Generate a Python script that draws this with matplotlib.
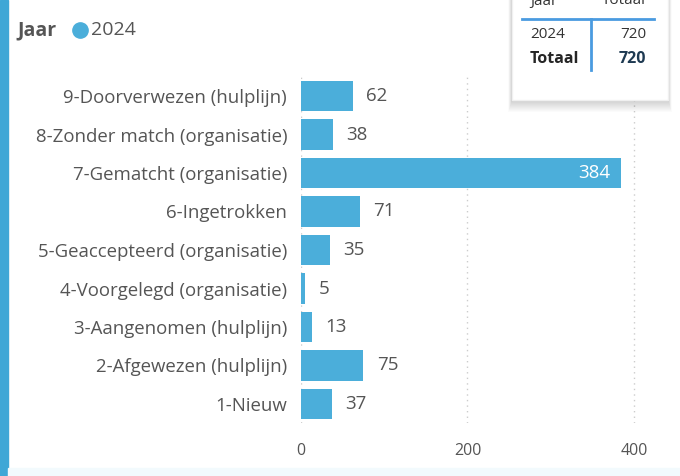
import matplotlib.pyplot as plt
from matplotlib.patches import Rectangle

plt.rcParams['font.family'] = ['Open Sans', 'DejaVu Sans']

categories = ['9-Doorverwezen (hulplijn)', '8-Zonder match (organisatie)',
              '7-Gematcht (organisatie)', '6-Ingetrokken',
              '5-Geaccepteerd (organisatie)', '4-Voorgelegd (organisatie)',
              '3-Aangenomen (hulplijn)', '2-Afgewezen (hulplijn)', '1-Nieuw']
values = [62, 38, 384, 71, 35, 5, 13, 75, 37]
x_ticks = [0, 200, 400]
table_rows = [('2024', '720')]
table_total = ('Totaal', '720')

bar_color = '#4BAEDA'
text_gray = '#555555'

fig = plt.figure(figsize=(6.8, 4.76), dpi=100)
W, H = 680, 476

def fx(px):
    return px / W

def fy(py):
    return 1 - py / H

# left accent strip and bottom tint
fig.patches.append(Rectangle((0, 0), fx(8), 1, transform=fig.transFigure,
                             color='#3FA7D6', zorder=0))
fig.patches.append(Rectangle((fx(8), 0), 1, 8 / H, transform=fig.transFigure,
                             color='#F2FAFD', zorder=0))

ax = fig.add_axes([fx(301), 1 - 423.25 / H, 349.6 / W, 346.5 / H])
y = list(range(len(categories)))[::-1]
ax.barh(y, values, height=0.78, color=bar_color, zorder=2)
ax.set_xlim(0, 420)
ax.set_ylim(-0.5, len(categories) - 0.5)
ax.set_yticks(y)
ax.set_yticklabels(categories, fontsize=13.4, color=text_gray)
ax.set_xticks(x_ticks)
ax.set_xticklabels([str(t) for t in x_ticks], fontsize=11.5, color=text_gray)
ax.tick_params(length=0)
ax.tick_params(axis='y', pad=10)
ax.tick_params(axis='x', pad=14)
for s in ax.spines.values():
    s.set_visible(False)
ax.grid(axis='x', linestyle=(0, (1, 3)), color='#cccccc', linewidth=1, zorder=0)
ax.set_axisbelow(True)

for yi, v in zip(y, values):
    if v > 300:
        ax.text(v - 13, yi, str(v), ha='right', va='center', color='white',
                fontsize=13.5)
    else:
        ax.text(v + 16, yi, str(v), ha='left', va='center', color=text_gray,
                fontsize=13.5)

# legend
fig.text(fx(17), fy(30), 'Jaar', fontsize=14, fontweight='bold',
         color='#555555', va='center')
fig.add_artist(plt.Line2D([fx(80)], [fy(30)], marker='o', markersize=11,
                          color=bar_color, transform=fig.transFigure))
fig.text(fx(91), fy(30), '2024', fontsize=14, color=text_gray, va='center')

# tooltip box with soft shadow, mostly below
for i in range(12):
    grow = 12 - i
    fig.patches.append(Rectangle((fx(512 - grow * 0.3), fy(100 + grow)),
                                 (156 + grow * 0.6) / W, (110 + grow) / H,
                                 transform=fig.transFigure, color='black',
                                 alpha=0.016, lw=0, zorder=3))
fig.patches.append(Rectangle((fx(512), fy(100)), 156 / W, 110 / H,
                             transform=fig.transFigure, facecolor='white',
                             edgecolor='#f0f0f0', zorder=4))
fig.add_artist(plt.Line2D([fx(522), fx(654)], [fy(19), fy(19)],
                          transform=fig.transFigure, color='#4A9BE0', lw=2, zorder=5))
fig.add_artist(plt.Line2D([fx(591), fx(591)], [fy(19), fy(70)],
                          transform=fig.transFigure, color='#4A9BE0', lw=2, zorder=5))
fig.text(fx(530), fy(1), 'Jaar', fontsize=11, color='#333333', va='center', zorder=6)
fig.text(fx(646), fy(1), 'Totaal', fontsize=11, color='#333333', va='center',
         ha='right', zorder=6)
for (lab, val) in table_rows:
    fig.text(fx(530), fy(34), lab, fontsize=11, color='#333333', va='center', zorder=6)
    fig.text(fx(646), fy(34), val, fontsize=11, color='#333333', va='center',
             ha='right', zorder=6)
fig.text(fx(530), fy(59), table_total[0], fontsize=11.5, fontweight='bold',
         color='#252525', va='center', zorder=6)
fig.text(fx(646), fy(59), table_total[1], fontsize=11.5, fontweight='bold',
         color='#1E3A52', va='center', ha='right', zorder=6)

fig.savefig('out.png', dpi=100)
